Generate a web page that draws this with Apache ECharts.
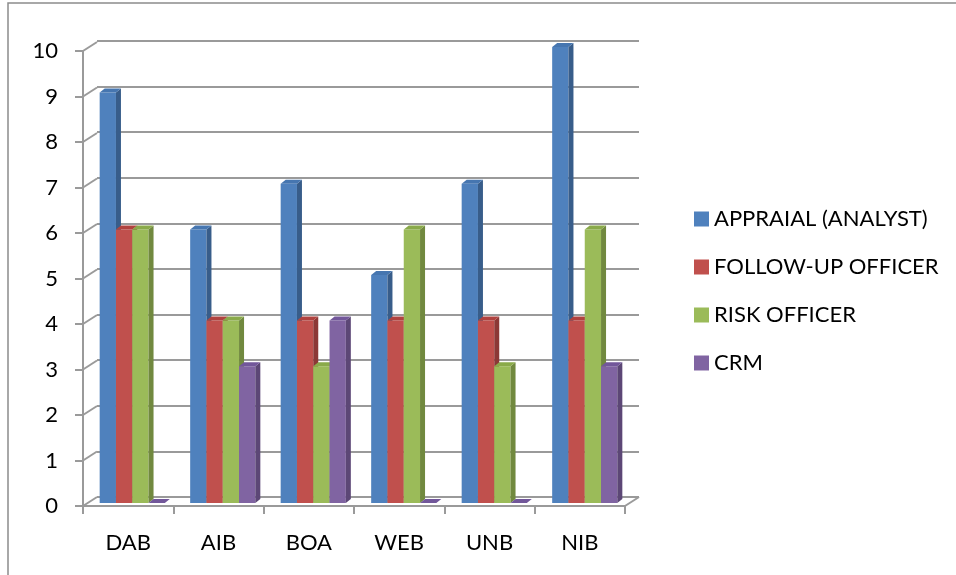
<!DOCTYPE html>
<html>
<head>
<meta charset="utf-8">
<script src="https://cdn.jsdelivr.net/npm/echarts@6/dist/echarts.min.js"></script>
<style>html,body{margin:0;padding:0;background:#fff}#c{width:956px;height:575px}</style>
</head>
<body>
<div id="c"></div>
<script>
const categories = ['DAB', 'AIB', 'BOA', 'WEB', 'UNB', 'NIB'];
const seriesNames = ['APPRAIAL (ANALYST)', 'FOLLOW-UP OFFICER', 'RISK OFFICER', 'CRM'];
const appraial = [9, 6, 7, 5, 7, 10];
const followUp = [6, 4, 4, 4, 4, 4];
const riskOfficer = [6, 4, 3, 6, 3, 6];
const crm = [0, 3, 4, 0, 0, 3];
const yTicks = [0, 1, 2, 3, 4, 5, 6, 7, 8, 9, 10];

const seriesValues = [appraial, followUp, riskOfficer, crm];
const frontColors = ['#4F81BD', '#C0504D', '#9BBB59', '#8064A2'];
const sideColors = ['#385D8A', '#8C3836', '#71893F', '#5C4776'];
const topColors = ['#4676B0', '#B0423F', '#8AAA4A', '#72579A'];

const FONT = 'Lato';
const FS = 22;
const DX = 5, DY = 4;

const chart = echarts.init(document.getElementById('c'), null, {renderer: 'canvas'});

function barRender(k) {
  return function (params, api) {
    const idx = api.value(0);
    const val = api.value(1);
    const base = api.coord([idx, 0]);
    const top = api.coord([idx, val]);
    const catW = api.size([1, 0])[0];
    const bw = catW * 0.18;
    const x0 = base[0] - bw * 2 + k * bw;
    const x1 = x0 + bw;
    const yb = base[1], yt = top[1];
    const children = [];
    if (yb - yt > 0.5) {
      children.push({type: 'rect', shape: {x: x0, y: yt, width: bw, height: yb - yt}, style: {fill: frontColors[k]}});
      children.push({type: 'polygon', shape: {points: [[x1, yt], [x1 + DX, yt - DY], [x1 + DX, yb - DY], [x1, yb]]}, style: {fill: sideColors[k]}});
    }
    children.push({type: 'polygon', shape: {points: [[x0, yt], [x0 + DX, yt - DY], [x1 + DX, yt - DY], [x1, yt]]}, style: {fill: topColors[k]}});
    return {type: 'group', children: children};
  };
}

const barSeries = seriesValues.map((vals, k) => ({
  type: 'custom',
  name: seriesNames[k],
  xAxisIndex: 2,
  yAxisIndex: 2,
  z: 5,
  itemStyle: {color: frontColors[k]},
  renderItem: barRender(k),
  data: vals.map((v, i) => [i, v])
}));

const diagSeries = {
  type: 'custom',
  xAxisIndex: 1,
  yAxisIndex: 1,
  z: 2,
  silent: true,
  renderItem: function (params, api) {
    const cs = params.coordSys;
    const v = api.value(0);
    const y = api.coord([0, v])[1];
    const children = [{type: 'line', shape: {x1: cs.x, y1: y, x2: cs.x + 14, y2: y - 9}, style: {stroke: '#9a9a9a', lineWidth: 2}}];
    if (v === 0) {
      children.push({type: 'line', shape: {x1: cs.x + cs.width, y1: y, x2: cs.x + cs.width + 14, y2: y - 9}, style: {stroke: '#9a9a9a', lineWidth: 2}});
    }
    return {type: 'group', children: children};
  },
  data: yTicks.map(v => [v])
};

const option = {
  backgroundColor: '#fff',
  animation: false,
  textStyle: {fontFamily: FONT},
  graphic: [{
    type: 'polyline',
    shape: {points: [[8, 580], [8, 3], [960, 3]]},
    style: {stroke: '#8c8c8c', lineWidth: 1.5, fill: null},
    z: 0
  }],
  legend: {
    orient: 'vertical',
    left: 689,
    top: 203,
    itemWidth: 15,
    itemHeight: 15,
    itemGap: 26,
    icon: 'rect',
    textStyle: {fontFamily: FONT, fontSize: FS, color: '#000'},
    data: seriesNames
  },
  grid: [
    {left: 97, right: 317, top: 41, bottom: 78},
    {left: 83, right: 331, top: 51, bottom: 69},
    {left: 87, right: 326, top: 47, bottom: 72}
  ],
  xAxis: [
    {gridIndex: 0, type: 'category', data: categories, axisLine: {show: false}, axisTick: {show: false}, axisLabel: {show: false}},
    {gridIndex: 1, type: 'category', data: categories,
      axisLine: {show: true, lineStyle: {color: '#9a9a9a', width: 2}},
      axisTick: {show: true, length: 8, lineStyle: {color: '#9a9a9a', width: 2}},
      axisLabel: {fontFamily: FONT, fontSize: FS, color: '#000', margin: 26}},
    {gridIndex: 2, type: 'category', data: categories, show: false}
  ],
  yAxis: [
    {gridIndex: 0, type: 'value', min: 0, max: 10, interval: 1,
      axisLine: {show: false}, axisTick: {show: false}, axisLabel: {show: false},
      splitLine: {show: true, lineStyle: {color: '#9a9a9a', width: 2}}},
    {gridIndex: 1, type: 'value', min: 0, max: 10, interval: 1,
      axisLine: {show: true, lineStyle: {color: '#9a9a9a', width: 2}},
      axisTick: {show: true, length: 8, lineStyle: {color: '#9a9a9a', width: 2}},
      axisLabel: {fontFamily: FONT, fontSize: FS, color: '#000', margin: 25},
      splitLine: {show: false}},
    {gridIndex: 2, type: 'value', min: 0, max: 10, interval: 1, show: false, splitLine: {show: false}}
  ],
  series: [diagSeries].concat(barSeries)
};
chart.setOption(option);
</script>
</body>
</html>
